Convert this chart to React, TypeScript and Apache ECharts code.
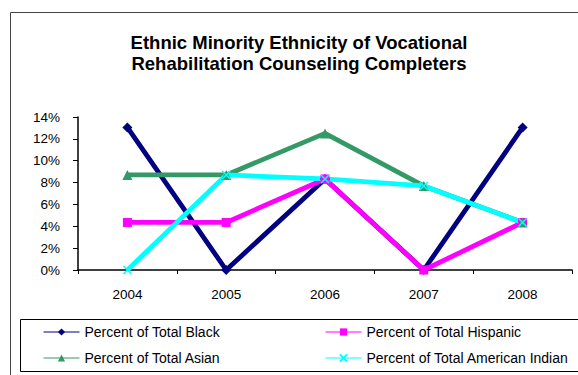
import React, { useEffect, useRef } from "react";
import * as echarts from "echarts";

const years = ["2004", "2005", "2006", "2007", "2008"];
const black = [0.1304, 0, 0.0833, 0, 0.1304];
const hispanic = [0.0435, 0.0435, 0.0833, 0, 0.0435];
const asian = [0.087, 0.087, 0.125, 0.0769, 0.0435];
const americanIndian = [0, 0.087, 0.0833, 0.0769, 0.0435];
const seriesNames = [
  "Percent of Total Black",
  "Percent of Total Hispanic",
  "Percent of Total Asian",
  "Percent of Total American Indian",
];
const titleLines = [
  "Ethnic Minority Ethnicity of Vocational",
  "Rehabilitation Counseling Completers",
];

const FONT = "Liberation Sans, Arial, sans-serif";
const X_SYMBOL = "path://M0,0L10,10M10,0L0,10";

export default function App() {
  const ref = useRef<HTMLDivElement>(null);
  useEffect(() => {
    if (!ref.current) return;
    const chart = echarts.init(ref.current, null, { renderer: "svg" });
    const mk = (name: string, data: number[], color: string, symbol: string, size: number, extra: any = {}) => ({
      name,
      type: "line",
      data,
      color,
      symbol,
      symbolSize: size,
      showAllSymbol: true,
      lineStyle: { width: 4.8, color },
      itemStyle: { color, ...extra },
      z: 2,
    });
    const legendBase = {
      orient: "vertical",
      top: 325,
      itemWidth: 36,
      itemHeight: 9,
      itemGap: 12,
      padding: 0,
      lineStyle: { width: 1 },
      textStyle: { fontFamily: FONT, fontSize: 14, color: "#000" },
    };
    chart.setOption({
      animation: false,
      backgroundColor: "#fff",
      textStyle: { fontFamily: FONT },
      title: {
        text: titleLines.join("\n"),
        left: 294,
        textAlign: "center",
        top: 27,
        textStyle: { fontFamily: FONT, fontSize: 18.5, fontWeight: "bold", color: "#000", lineHeight: 21 },
      },
      grid: { left: 78, right: 6, top: 117, bottom: 105 },
      xAxis: {
        type: "category",
        data: years,
        boundaryGap: true,
        axisLine: { lineStyle: { color: "#000", width: 1.5 } },
        axisTick: { show: true, length: 4, lineStyle: { color: "#000" } },
        axisLabel: { color: "#000", fontSize: 13.5, fontFamily: FONT, margin: 17 },
        splitLine: { show: false },
      },
      yAxis: {
        type: "value",
        min: 0,
        max: 0.14,
        interval: 0.02,
        axisLine: { show: true, lineStyle: { color: "#000", width: 1.5 } },
        axisTick: { show: true, length: 5, lineStyle: { color: "#000" } },
        axisLabel: {
          color: "#000",
          fontSize: 13.5,
          fontFamily: FONT,
          margin: 18,
          formatter: (v: number) => `${Math.round(v * 100)}%`,
        },
        splitLine: { show: false },
      },
      legend: [
        { ...legendBase, data: [seriesNames[0], seriesNames[2]], left: 43 },
        { ...legendBase, data: [seriesNames[1], seriesNames[3]], left: 325 },
      ],
      graphic: [
        {
          type: "polyline",
          shape: { points: [[10.5, 375], [10.5, 12.5], [578, 12.5]] },
          style: { stroke: "#444", lineWidth: 1, fill: "none" },
          silent: true,
        },
        {
          type: "rect",
          shape: { x: 20.5, y: 319.5, width: 600, height: 52 },
          style: { stroke: "#000", lineWidth: 1, fill: "none" },
          silent: true,
        },
      ],
      series: [
        mk(seriesNames[0], black, "#000080", "diamond", 10),
        mk(seriesNames[1], hispanic, "#FF00FF", "rect", 9),
        mk(seriesNames[2], asian, "#339966", "triangle", 10),
        mk(seriesNames[3], americanIndian, "#00FFFF", X_SYMBOL, 8, { borderColor: "#00FFFF", borderWidth: 1.5 }),
      ],
    });
    return () => chart.dispose();
  }, []);
  return (
    <div
      ref={ref}
      style={{ position: "fixed", left: 0, top: 0, width: 578, height: 375 }}
    />
  );
}
